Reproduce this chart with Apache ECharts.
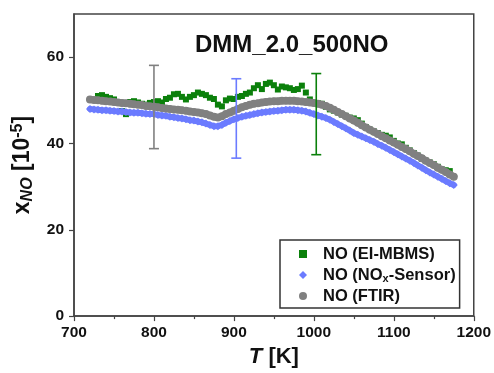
<!DOCTYPE html>
<html>
<head>
<meta charset="utf-8">
<script src="https://cdn.jsdelivr.net/npm/echarts@6/dist/echarts.min.js"></script>
<style>html,body{margin:0;padding:0;background:#fff;}#c{width:494px;height:373px;}</style>
</head>
<body>
<div id="c"></div>
<script>
// ---- data ----
var greyT0 = 720, blueT0 = 720, greenT0 = 730, stepT = 5;
var ftirNO = [50.2,50.1,50.0,49.9,49.8,49.7,49.6,49.5,49.4,49.3,49.2,49.1,49.0,48.9,48.7,48.6,48.5,48.4,48.2,48.1,48.0,47.9,47.8,47.7,47.6,47.4,47.3,47.2,47.0,46.8,46.5,46.2,46.0,46.3,46.8,47.2,47.6,48.0,48.4,48.7,49.0,49.2,49.3,49.5,49.6,49.7,49.8,49.8,49.9,49.9,49.9,49.9,49.8,49.7,49.6,49.5,49.4,49.2,49.0,48.7,48.3,47.8,47.3,46.8,46.3,45.8,45.3,44.8,44.2,43.7,43.2,42.7,42.2,41.7,41.2,40.7,40.2,39.7,39.2,38.7,38.2,37.6,37.1,36.6,36.0,35.5,35.0,34.4,33.9,33.4,32.8,32.3];
var sensorNO = [48.0,47.9,47.8,47.7,47.7,47.6,47.5,47.4,47.4,47.3,47.2,47.1,47.1,47.0,46.9,46.8,46.8,46.6,46.5,46.4,46.2,46.1,45.9,45.8,45.6,45.4,45.3,45.1,44.9,44.6,44.3,44.0,44.0,44.3,44.8,45.2,45.6,45.9,46.2,46.4,46.6,46.8,47.0,47.2,47.3,47.4,47.5,47.6,47.7,47.8,47.8,47.8,47.7,47.6,47.4,47.1,46.8,46.5,46.2,45.9,45.5,45.0,44.5,44.0,43.5,43.0,42.4,42.0,41.6,41.2,40.8,40.4,39.9,39.5,39.0,38.5,38.0,37.5,37.0,36.5,36.0,35.5,34.9,34.4,33.8,33.3,32.8,32.3,31.8,31.3,30.8,30.4];
var mbmsNO = [51.0,51.2,50.8,50.5,50.2,49.5,47.5,46.8,49.6,49.8,49.5,49.2,49.0,49.4,49.6,49.8,49.5,50.3,50.6,51.4,51.5,50.8,50.2,50.8,51.2,51.8,51.5,51.2,50.6,50.3,49.0,48.6,50.0,50.4,50.3,50.8,51.0,51.5,51.8,52.8,53.5,52.6,53.8,54.1,53.5,52.5,53.2,53.0,52.8,52.4,52.6,53.4,51.8,50.2,49.4,49.3,49.2,48.5,47.9,47.6,47.2,46.7,46.4,46.0,45.8,45.4,44.6,43.8,43.2,42.8,42.4,42.0,41.8,41.4,40.6,40.0,39.8,39.0,38.4,37.8,37.2,36.5,36.0,35.6,35.2,34.6,34.0,33.8,33.6];
var errT = [800, 903, 1003];
var errLow = [38.8, 36.6, 37.4];
var errHigh = [58.1, 55.0, 56.2];
var xTicks = [700, 800, 900, 1000, 1100, 1200];
var yTicks = [0, 20, 40, 60];
var seriesNames = ['NO (EI-MBMS)', 'NO (NOx-Sensor)', 'NO (FTIR)'];

function pairs(t0, vals) {
  var out = [];
  for (var i = 0; i < vals.length; i++) out.push([t0 + i * stepT, vals[i]]);
  return out;
}

var GREEN = '#0b800b', BLUE = '#6b7bff', GREY = '#808080';
var errColors = [GREY, BLUE, GREEN];
var FONT = '"Liberation Sans", Arial, sans-serif';
var INK = '#111';

var chart = echarts.init(document.getElementById('c'), null, {renderer: 'canvas'});
chart.setOption({
  animation: false,
  backgroundColor: '#fff',
  title: {
    text: 'DMM_2.0_500NO',
    left: 190, top: 28,
    textStyle: {fontFamily: FONT, fontWeight: 'bold', fontSize: 24, color: INK}
  },
  grid: {left: 74, top: 14, right: 20, bottom: 51, show: true, borderColor: '#444', borderWidth: 1.5, backgroundColor: 'transparent'},
  legend: {
    orient: 'vertical',
    left: 280, top: 240,
    padding: [5, 4, 3, 19],
    itemGap: 3,
    itemWidth: 8, itemHeight: 8,
    borderColor: '#333', borderWidth: 1.5,
    selectedMode: false,
    data: [
      {name: seriesNames[0], icon: 'rect'},
      {name: seriesNames[1], icon: 'diamond'},
      {name: seriesNames[2], icon: 'circle'}
    ],
    formatter: function (n) {
      if (n === seriesNames[1]) return '{n|NO (NO}{sub|x}{n|-Sensor)}';
      return '{n|' + n + '}';
    },
    textStyle: {
      fontFamily: FONT, fontWeight: 'bold', fontSize: 16.5, color: INK, padding: [0, 0, 0, 11], lineHeight: 18,
      rich: {
        n: {fontFamily: FONT, fontWeight: 'bold', fontSize: 16.5, color: INK, lineHeight: 18},
        sub: {fontFamily: FONT, fontWeight: 'bold', fontSize: 11, color: INK, lineHeight: 18, verticalAlign: 'bottom', padding: [7, 0, 0, 0]}
      }
    }
  },
  xAxis: {
    type: 'value', min: 700, max: 1200, interval: 100,
    name: '{i|T}{n| [K]}', nameLocation: 'middle', nameGap: 27,
    nameTextStyle: {
      rich: {
        i: {fontFamily: FONT, fontWeight: 'bold', fontStyle: 'italic', fontSize: 22, color: INK, lineHeight: 24},
        n: {fontFamily: FONT, fontWeight: 'bold', fontSize: 22, color: INK, lineHeight: 24}
      }
    },
    axisLine: {lineStyle: {color: '#444', width: 1.5}},
    axisTick: {length: 5, lineStyle: {color: '#444', width: 1.2}},
    minorTick: {show: true, splitNumber: 2, length: 3, lineStyle: {color: '#444', width: 1.2}},
    splitLine: {show: false},
    axisLabel: {margin: 9, fontFamily: FONT, fontWeight: 'bold', fontSize: 15.5, color: INK, customValues: xTicks,
      formatter: function (v) { return String(v); }}
  },
  yAxis: {
    type: 'value', min: 0, max: 70, interval: 20,
    name: '{i|x}{sub|NO}{n| [10}{sup|-5}{n|]}', nameLocation: 'middle', nameGap: 33,
    nameTextStyle: {
      rich: {
        i: {fontFamily: FONT, fontWeight: 'bold', fontSize: 23, color: INK, lineHeight: 26},
        n: {fontFamily: FONT, fontWeight: 'bold', fontSize: 23, color: INK, lineHeight: 26},
        sub: {fontFamily: FONT, fontWeight: 'bold', fontStyle: 'italic', fontSize: 16, color: INK, lineHeight: 26, verticalAlign: 'bottom', padding: [9, 0, 0, 0]},
        sup: {fontFamily: FONT, fontWeight: 'bold', fontSize: 16, color: INK, lineHeight: 26, verticalAlign: 'top', padding: [0, 0, 7, 0]}
      }
    },
    axisLine: {show: true, lineStyle: {color: '#444', width: 1.5}},
    axisTick: {show: true, length: 5, lineStyle: {color: '#444', width: 1.2}, customValues: yTicks},
    splitLine: {show: false},
    axisLabel: {margin: 10, fontFamily: FONT, fontWeight: 'bold', fontSize: 15.5, color: INK, customValues: yTicks,
      formatter: function (v) { return String(v); }}
  },
  series: [
    {name: seriesNames[0], type: 'scatter', symbol: 'rect', symbolSize: 6, itemStyle: {color: GREEN, opacity: 1}, data: pairs(greenT0, mbmsNO), z: 2},
    {name: seriesNames[1], type: 'line', symbol: 'diamond', symbolSize: 8, showSymbol: true, showAllSymbol: true,
      lineStyle: {color: BLUE, width: 6, cap: 'round', join: 'round'}, itemStyle: {color: BLUE, opacity: 1, borderWidth: 0},
      data: pairs(blueT0, sensorNO), z: 3},
    {name: seriesNames[2], type: 'line', symbol: 'circle', symbolSize: 8, showSymbol: true, showAllSymbol: true,
      lineStyle: {color: GREY, width: 7, cap: 'round', join: 'round'}, itemStyle: {color: GREY, opacity: 1, borderWidth: 0},
      data: pairs(greyT0, ftirNO), z: 4},
    {
      type: 'custom', z: 10,
      data: errT.map(function (t, i) { return [t, errLow[i], errHigh[i]]; }),
      encode: {x: 0, y: [1, 2]},
      renderItem: function (params, api) {
        var lo = api.coord([api.value(0), api.value(1)]);
        var hi = api.coord([api.value(0), api.value(2)]);
        var c = errColors[params.dataIndex];
        var st = {stroke: c, lineWidth: 1.6};
        return {type: 'group', children: [
          {type: 'line', shape: {x1: lo[0], y1: lo[1], x2: hi[0], y2: hi[1]}, style: st},
          {type: 'line', shape: {x1: lo[0] - 5, y1: lo[1], x2: lo[0] + 5, y2: lo[1]}, style: st},
          {type: 'line', shape: {x1: hi[0] - 5, y1: hi[1], x2: hi[0] + 5, y2: hi[1]}, style: st}
        ]};
      }
    }
  ]
});
</script>
</body>
</html>
